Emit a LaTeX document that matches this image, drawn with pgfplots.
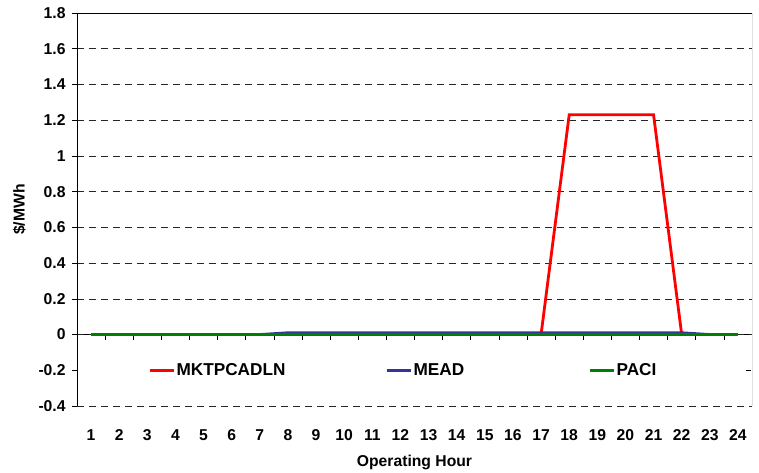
\documentclass[border=0pt]{standalone}
\usepackage{pgfplots}
\pgfplotsset{compat=1.18}
\usepackage{fontspec}
\setmainfont{Liberation Sans}
\definecolor{cRed}{RGB}{255,0,0}
\definecolor{cBlue}{RGB}{51,51,153}
\definecolor{cGreen}{RGB}{0,128,0}
\pgfplotstableread{
x a b c
1 0 0 0
2 0 0 0
3 0 0 0
4 0 0 0
5 0 0 0
6 0 0 0
7 0 0 0
8 0 0.01 0
9 0 0.01 0
10 0 0.01 0
11 0 0.01 0
12 0 0.01 0
13 0 0.01 0
14 0 0.01 0
15 0 0.01 0
16 0 0.01 0
17 0 0.01 0
18 1.23 0.01 0
19 1.23 0.01 0
20 1.23 0.01 0
21 1.23 0.01 0
22 0 0.01 0
23 0 0 0
24 0 0 0
}\datatable
\newcommand{\cf}{\fontsize{15.7bp}{18bp}\selectfont\bfseries}
\newcommand{\lf}{\fontsize{17.2bp}{19bp}\selectfont\bfseries}
\begin{document}
\cf
\begin{tikzpicture}
% x axis line at y=0 with boundary ticks
\begin{axis}[
  scale only axis, width=675bp, height=393bp,
  xmin=0.5, xmax=24.5, ymin=-0.4, ymax=1.8,
  axis x line=middle, axis y line=none,
  axis line style={-, black, line width=0.6bp},
  xtick={1.5,2.5,...,23.5}, xticklabels={},
  tick align=outside, major tick length=5bp,
  tick style={black, line width=0.6bp},
]
\end{axis}
\begin{axis}[
  scale only axis, width=675bp, height=393bp,
  xmin=0.5, xmax=24.5, ymin=-0.4, ymax=1.8,
  axis line style={draw=none},
  xtick={1,...,24}, major tick length=5bp,
  x tick style={draw=none},
  ytick={-0.4,0,0.2,0.4,0.6,0.8,1,1.2,1.4,1.6,1.8},
  extra y ticks={-0.2},
  extra y tick style={grid=none},
  ytick pos=left, tick align=outside,
  y tick style={black, line width=0.6bp},
  ymajorgrids,
  major grid style={black!85, line width=0.6bp, dash pattern=on 7bp off 5bp},
  /pgf/number format/assume math mode=true,
  ticklabel style={font=\cf},
  yticklabel style={xshift=-1bp},
  xticklabel style={yshift=-13bp},
  xlabel={Operating Hour},
  ylabel={\$/MWh},
  label style={font=\cf},
  xlabel shift=4bp,
  ylabel shift=-8bp,
  legend columns=3,
  legend style={at={(axis cs:3.02,-0.2)}, anchor=west, draw=none, fill=none,
    inner sep=0pt, font=\lf,
    nodes={inner sep=1.5bp},
    /tikz/every even column/.append style={column sep=0pt}},
  legend image code/.code={\draw[#1, line width=3bp] (0bp,0bp) -- (24bp,0bp);},
]
\draw[black, line width=0.8bp] (rel axis cs:0,0) -- (rel axis cs:0,1) -- (rel axis cs:1,1) -- (rel axis cs:1,0);
\draw[black, line width=0.6bp] (axis cs:24.3,-0.2) -- (axis cs:24.48,-0.2);
\addplot[cRed, line width=2.8bp] table[x=x, y=a] {\datatable};
\addlegendentry{\makebox[207bp][l]{MKTPCADLN}}
\addplot[cBlue, line width=2.8bp] table[x=x, y=b] {\datatable};
\addlegendentry{\makebox[173bp][l]{MEAD}}
\addplot[cGreen, line width=2.8bp] table[x=x, y=c] {\datatable};
\addlegendentry{PACI}
\end{axis}
\pgfresetboundingbox
\path[use as bounding box] (-77bp,-67bp) rectangle (682bp,406bp);
\end{tikzpicture}
\end{document}
